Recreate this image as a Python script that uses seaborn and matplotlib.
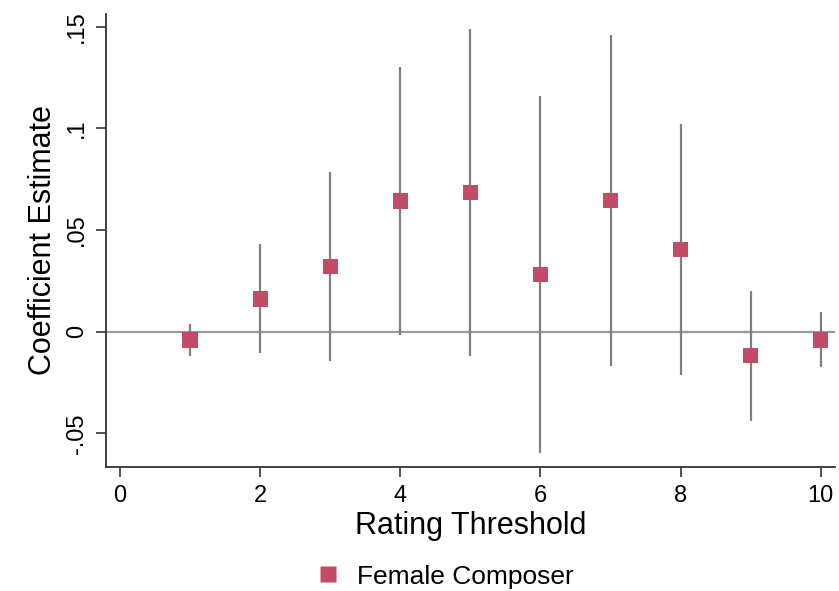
import matplotlib
matplotlib.use("Agg")
import matplotlib.pyplot as plt
import seaborn as sns
import pandas as pd

threshold = [1, 2, 3, 4, 5, 6, 7, 8, 9, 10]
coef = [-0.0041, 0.0161, 0.0322, 0.0643, 0.0683, 0.0282, 0.0644, 0.0403, -0.0119, -0.0041]
ci_low = [-0.0119, -0.0106, -0.0143, -0.0016, -0.0119, -0.0595, -0.0169, -0.0214, -0.0438, -0.0174]
ci_high = [0.0038, 0.0430, 0.0787, 0.1303, 0.1487, 0.1159, 0.1459, 0.1020, 0.0199, 0.0095]
y_ticks = [-0.05, 0, 0.05, 0.10, 0.15]
y_tick_labels = ["-.05", "0", ".05", ".1", ".15"]
x_ticks = [0, 2, 4, 6, 8, 10]
series_name = "Female Composer"

df = pd.DataFrame({"threshold": threshold, "coef": coef, "lo": ci_low, "hi": ci_high,
                   "series": series_name})

sns.set_theme(style="white")
plt.rcParams['font.family'] = ['Liberation Sans', 'DejaVu Sans']
plt.rcParams['text.color'] = 'black'
plt.rcParams['axes.labelcolor'] = 'black'

fig = plt.figure(figsize=(8.39, 5.91), dpi=100)
ax = fig.add_axes([0.1263, 0.2103, 0.8687, 0.766])

marker_color = "#C24B65"
ax.axhline(0, color="#9a9a9a", lw=1.6, zorder=1)
ax.vlines(df["threshold"], df["lo"], df["hi"], color="#7f7f7f", lw=1.6, zorder=2)
sns.scatterplot(data=df, x="threshold", y="coef", hue="series", palette=[marker_color],
                marker="s", s=120, edgecolor="none", ax=ax, zorder=3)

ax.set_xlim(-0.2, 10.2)
ax.set_ylim(-0.0664, 0.1562)
ax.set_xticks(x_ticks)
ax.set_xticklabels([str(t) for t in x_ticks], fontsize=17)
ax.set_yticks(y_ticks)
ax.set_yticklabels(y_tick_labels, fontsize=17, rotation=90, va="center")

for s in ["top", "right"]:
    ax.spines[s].set_visible(False)
for s in ["left", "bottom"]:
    ax.spines[s].set_color("#333333")
    ax.spines[s].set_linewidth(1.3)

ax.tick_params(axis="both", which="both", direction="out", length=7, width=1.2,
               color="#333333", labelcolor="black", pad=6)
ax.tick_params(axis="x", bottom=True)
ax.tick_params(axis="y", left=True)

ax.set_xlabel("Rating Threshold", fontsize=22, labelpad=3)
ax.set_ylabel("Coefficient Estimate", fontsize=22, labelpad=6)

leg = ax.legend(loc="center", bbox_to_anchor=(0.455, -0.243), frameon=False,
                fontsize=19, handletextpad=0.1, markerscale=1.0)
for h in leg.legend_handles:
    h.set_markersize(11)

fig.savefig("out.png", dpi=100)
